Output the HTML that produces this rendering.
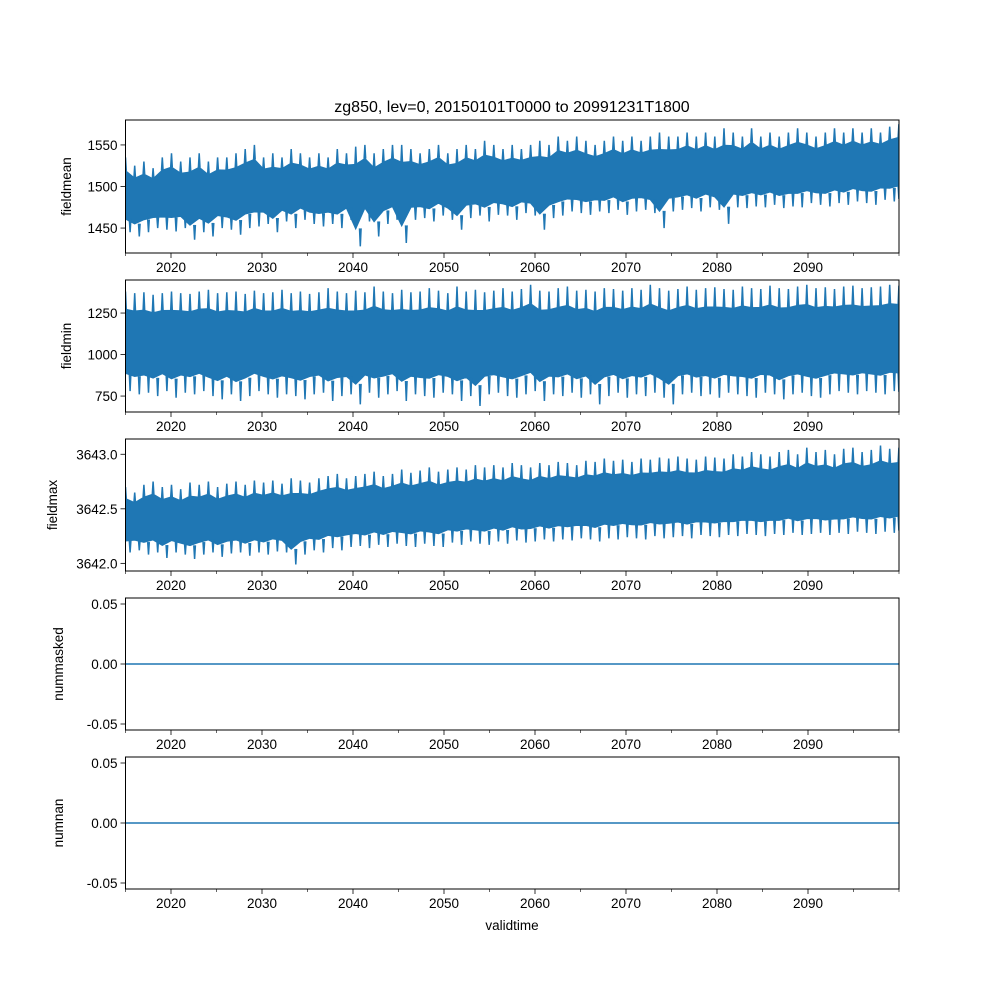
<!DOCTYPE html>
<html><head><meta charset="utf-8"><style>
body{margin:0;background:#fff}
svg{display:block}
text{font-family:"Liberation Sans","DejaVu Sans",sans-serif;fill:#000}
</style></head><body>
<svg id="fig" width="1000" height="1000" viewBox="0 0 1000 1000" xmlns="http://www.w3.org/2000/svg">
<rect width="1000" height="1000" fill="#fff"/>
<text x="512" y="112" font-size="16" text-anchor="middle">zg850, lev=0, 20150101T0000 to 20991231T1800</text>
</svg>
<script>
const xTicks=[2020,2030,2040,2050,2060,2070,2080,2090];
const xMinor=[2015,2025,2035,2045,2055,2065,2075,2085,2095,2100];
const meanMax=[1535,1525,1530,1522,1535,1540,1530,1535,1540,1530,1535,1535,1540,1545,1550,1535,1540,1535,1545,1540,1535,1540,1535,1545,1540,1548,1550,1540,1545,1550,1550,1545,1540,1545,1550,1540,1545,1550,1545,1555,1550,1545,1550,1545,1550,1555,1550,1560,1555,1560,1555,1550,1555,1560,1555,1560,1555,1560,1565,1560,1560,1565,1560,1565,1560,1570,1565,1560,1570,1560,1565,1560,1565,1570,1565,1560,1565,1570,1565,1570,1565,1570,1565,1572,1575];
const meanMin=[1445,1440,1445,1450,1448,1446,1450,1436,1445,1440,1450,1448,1442,1450,1452,1455,1445,1458,1450,1460,1455,1452,1455,1450,1460,1428,1458,1440,1455,1460,1432,1460,1462,1458,1465,1460,1448,1462,1465,1458,1466,1465,1460,1468,1465,1448,1462,1465,1470,1468,1466,1470,1468,1472,1466,1470,1472,1468,1450,1470,1472,1474,1470,1475,1472,1455,1475,1474,1476,1475,1478,1474,1476,1475,1480,1478,1476,1480,1478,1482,1480,1478,1484,1482,1485];
const minMax=[1380,1370,1375,1360,1370,1380,1370,1365,1380,1390,1370,1375,1380,1365,1385,1370,1375,1390,1370,1380,1365,1375,1400,1380,1370,1385,1375,1410,1380,1370,1390,1375,1380,1400,1385,1370,1410,1380,1390,1375,1385,1400,1380,1395,1420,1385,1380,1400,1410,1385,1390,1380,1400,1395,1385,1400,1390,1420,1400,1385,1395,1410,1390,1400,1405,1395,1390,1410,1400,1395,1415,1400,1395,1410,1420,1400,1405,1395,1410,1415,1400,1405,1410,1420,1415];
const minMin=[780,760,770,750,780,740,770,760,780,750,730,760,720,750,780,760,740,760,750,730,760,770,720,750,760,700,770,740,760,780,720,760,750,740,770,760,720,750,690,760,770,750,740,760,780,720,760,750,770,740,760,700,750,770,740,760,750,770,740,700,760,770,750,760,740,770,760,750,740,770,760,730,760,770,750,740,760,780,770,760,780,770,760,780,775];
const maxMax=[3642.70,3642.65,3642.72,3642.75,3642.70,3642.72,3642.68,3642.74,3642.72,3642.75,3642.70,3642.73,3642.75,3642.72,3642.76,3642.74,3642.76,3642.73,3642.78,3642.76,3642.74,3642.78,3642.80,3642.82,3642.78,3642.80,3642.82,3642.84,3642.80,3642.82,3642.86,3642.83,3642.85,3642.88,3642.84,3642.86,3642.88,3642.86,3642.90,3642.88,3642.90,3642.88,3642.92,3642.90,3642.88,3642.92,3642.90,3642.93,3642.92,3642.90,3642.94,3642.93,3642.96,3642.94,3642.95,3642.93,3642.96,3642.95,3642.97,3642.96,3642.98,3642.96,3642.95,3642.98,3642.97,3642.96,3643.00,3642.98,3643.02,3643.00,3642.98,3643.02,3643.04,3643.00,3643.06,3643.02,3643.04,3643.00,3643.05,3643.06,3643.02,3643.04,3643.08,3643.05,3643.06];
const maxMin=[3642.10,3642.12,3642.08,3642.10,3642.05,3642.10,3642.08,3642.04,3642.08,3642.10,3642.06,3642.09,3642.10,3642.07,3642.10,3642.08,3642.11,3642.10,3641.99,3642.08,3642.12,3642.10,3642.14,3642.12,3642.15,3642.16,3642.14,3642.17,3642.15,3642.18,3642.16,3642.15,3642.18,3642.16,3642.15,3642.19,3642.17,3642.20,3642.18,3642.17,3642.20,3642.18,3642.21,3642.19,3642.20,3642.22,3642.20,3642.22,3642.21,3642.23,3642.22,3642.20,3642.23,3642.22,3642.24,3642.23,3642.22,3642.25,3642.23,3642.24,3642.25,3642.23,3642.26,3642.25,3642.24,3642.26,3642.25,3642.27,3642.26,3642.25,3642.27,3642.26,3642.28,3642.26,3642.27,3642.28,3642.26,3642.28,3642.27,3642.29,3642.28,3642.27,3642.29,3642.28,3642.30];
const zeroSeries=[0,0];
const panels=[
 {name:'fieldmean',top:120,bot:253,ymin:1420,ymax:1580,ticks:[1450,1500,1550],fmt:v=>String(v),hi:meanMax,lo:meanMin},
 {name:'fieldmin',top:280,bot:412,ymin:654,ymax:1449,ticks:[750,1000,1250],fmt:v=>String(v),hi:minMax,lo:minMin},
 {name:'fieldmax',top:439,bot:571,ymin:3641.93,ymax:3643.14,ticks:[3642.0,3642.5,3643.0],fmt:v=>v.toFixed(1),hi:maxMax,lo:maxMin},
 {name:'nummasked',top:598,bot:730,ymin:-0.055,ymax:0.055,ticks:[-0.05,0,0.05],fmt:v=>v.toFixed(2),line:zeroSeries},
 {name:'numnan',top:757,bot:889,ymin:-0.055,ymax:0.055,ticks:[-0.05,0,0.05],fmt:v=>v.toFixed(2),line:zeroSeries}
];
const L=125.5,R=899,X0=2015,X1=2100;
const sx=v=>L+(v-X0)/(X1-X0)*(R-L);
const svg=document.getElementById('fig');
const NS='http://www.w3.org/2000/svg';
function mk(t,a,parent){const e=document.createElementNS(NS,t);for(const k in a)e.setAttribute(k,a[k]);(parent||svg).appendChild(e);return e;}
const C='#1f77b4';
const defs=mk('defs',{});
panels.forEach((p,pi)=>{
 const sy=v=>p.bot-(v-p.ymin)/(p.ymax-p.ymin)*(p.bot-p.top);
 const cp=mk('clipPath',{id:'clip'+pi},defs);
 mk('rect',{x:L,y:p.top,width:R-L,height:p.bot-p.top},cp);
 const g=mk('g',{'clip-path':`url(#clip${pi})`});
 
 
 if(p.hi){
  const n=p.hi.length,step=(X1-0.01-X0)/(n-1);
  const inset=0.18;
  const cHi=i=>p.hi[i]-(p.hi[i]-p.lo[i])*inset;
  const cLo=i=>p.lo[i]+(p.hi[i]-p.lo[i])*inset;
  let pts=[];
  for(let i=0;i<n;i++)pts.push(sx(X0+i*step).toFixed(1)+','+sy(cHi(i)).toFixed(1));
  for(let i=n-1;i>=0;i--)pts.push(sx(X0+i*step).toFixed(1)+','+sy(cLo(i)).toFixed(1));
  const band=mk('polygon',{points:pts.join(' '),fill:C,stroke:C,'stroke-width':1.5},g);
  
  
  let d='';
  for(let i=0;i<n;i++){
   const x=sx(X0+i*step),x2=sx(X0+Math.min(i+0.5,n-1)*step);
   d+=`M${(x-0.8).toFixed(1)},${sy(cHi(i)).toFixed(1)}L${x.toFixed(1)},${sy(p.hi[i]).toFixed(1)}L${(x+0.8).toFixed(1)},${sy(cHi(i)).toFixed(1)}`;
   d+=`M${(x2-0.8).toFixed(1)},${sy(cLo(i)).toFixed(1)}L${x2.toFixed(1)},${sy(p.lo[i]).toFixed(1)}L${(x2+0.8).toFixed(1)},${sy(cLo(i)).toFixed(1)}`;
  }
  const sp=mk('path',{d:d,fill:'none',stroke:C,'stroke-width':1.5},g);
  
  
 } else {
  const ln=mk('line',{x1:sx(X0),x2:sx(X1),y1:sy(p.line[0]),y2:sy(p.line[1]),stroke:C,'stroke-width':1.5},g);
  
  
 }
 const fr=mk('rect',{x:L,y:p.top,width:R-L,height:p.bot-p.top,fill:'none',stroke:'#000','stroke-width':1});
 
 
 p.ticks.forEach(t=>{
  const y=sy(t);
  mk('line',{x1:L-5,x2:L,y1:y,y2:y,stroke:'#000','stroke-width':0.8});
  const tx=mk('text',{x:L-8,y:y+5,'font-size':13.5,'text-anchor':'end'});
  tx.textContent=p.fmt(t);
  
  
 });
 xTicks.forEach(t=>{
  const x=sx(t);
  mk('line',{x1:x,x2:x,y1:p.bot,y2:p.bot+5,stroke:'#000','stroke-width':0.8});
  const tx=mk('text',{x:x,y:p.bot+19,'font-size':13.5,'text-anchor':'middle'});
  tx.textContent=t;
  
  
 });
 xMinor.forEach(t=>{const x=sx(t);mk('line',{x1:x,x2:x,y1:p.bot,y2:p.bot+3,stroke:'#000','stroke-width':0.6});});
 const lx=p.name.startsWith('num')?63:(p.name==='fieldmax'?57:71);
 const yl=mk('text',{x:lx,y:(p.top+p.bot)/2,'font-size':13.5,'text-anchor':'middle',transform:`rotate(-90 ${lx} ${(p.top+p.bot)/2})`});
 yl.textContent=p.name;
 
 
});
const xl=mk('text',{x:512,y:930,'font-size':13.5,'text-anchor':'middle'});
xl.textContent='validtime';


</script>
</body></html>
